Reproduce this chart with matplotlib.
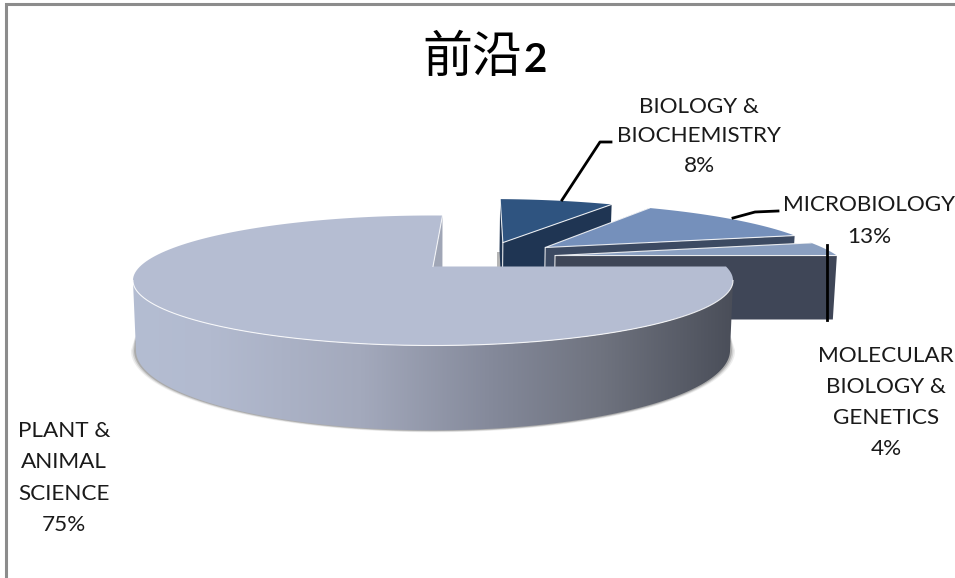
from __future__ import annotations

import matplotlib

matplotlib.use("Agg")
import matplotlib.pyplot as plt
import numpy as np
from matplotlib.colors import LinearSegmentedColormap
from matplotlib.patches import Polygon


TITLE_CJK = "前沿"
TITLE_NUM = "2"
CATEGORIES = ["BIOLOGY &\nBIOCHEMISTRY", "MICROBIOLOGY", "MOLECULAR\nBIOLOGY &\nGENETICS", "PLANT &\nANIMAL\nSCIENCE"]
VALUES = [8.0, 12.6, 3.7, 75.4]

# slices run clockwise from north, plant slice ends a little past it
FIRST_ANGLE = 2.26
TOP_COLORS = ["#2f5480", "#7590bb", "#8a9fc0", "#b5bdd2"]
SIDE_COLORS = ["#1f3553", "#3c4a62", "#3f4657", "#a0a6b6"]
OFFSETS = [(0.26, -0.42), (0.41, -0.328), (0.433, -0.184), (0.0, 0.0)]
LABEL_POS = [(699, 136.5), (869, 221), (886, 402.5), (64, 478)]
LABEL_SPACING = [1.61, 1.7, 1.68, 1.72]

CX, CY = 433.0, 266.5
RADIUS = 293.0
SQUASH = 62.0
PERSP = 0.2154
DEPTH = 66.5
WIDTH, HEIGHT = 955, 578
# angles where the rim turns, the wall is only seen between them
SIDE_A, SIDE_B = 102.4, 257.6


def project(u, v, depth=0.0):
    s = 1.0 / (1.0 - PERSP * v)
    return CX + RADIUS * u * s * (1.0 - 0.01 * depth), CY + SQUASH * v * s + DEPTH * s * depth


def arc(start, end, offset=(0.0, 0.0), depth=0.0, scale=1.0, n=160):
    t = np.radians(np.linspace(start, end, n))
    # v is positive towards the viewer, north of the pie is negative v
    x, y = project(offset[0] + scale * np.sin(t), offset[1] - scale * np.cos(t), depth)
    return np.column_stack([x, y])


def cutFace(angle, offset, color, ax):
    a = np.radians(angle)
    outer = (offset[0] + np.sin(a), offset[1] - np.cos(a))
    pts = [project(*offset), project(*outer), project(*outer, 1.0), project(*offset, 1.0)]
    ax.add_patch(Polygon(pts, closed=True, facecolor=color, edgecolor="none"))


fig = plt.figure(figsize=(WIDTH / 100, HEIGHT / 100), dpi=100)
ax = fig.add_axes([0, 0, 1, 1])
ax.set_axis_off()

sweeps = np.array(VALUES) / sum(VALUES) * 360.0
starts = FIRST_ANGLE + np.concatenate([[0.0], np.cumsum(sweeps)[:-1]])
ends = starts + sweeps

# small detached slices, back to front
for i in range(3):
    offset = OFFSETS[i]
    if i == 0:
        ax.add_patch(Polygon([(497, 252), (503, 252), (503, 267), (497, 267)], facecolor="#b5b5b5", edgecolor="none"))
    cutFace(starts[i], offset, SIDE_COLORS[i], ax)
    cutFace(ends[i], offset, SIDE_COLORS[i], ax)
    apex = np.array([project(*offset)])
    top = np.vstack([apex, arc(starts[i], ends[i], offset)])
    ax.add_patch(Polygon(top, closed=True, facecolor=TOP_COLORS[i], edgecolor="none"))
    ax.plot(*np.vstack([arc(ends[i], ends[i], offset, n=1), apex, arc(starts[i], starts[i], offset, n=1)]).T,
            color="white", lw=0.8, alpha=0.85, solid_joinstyle="miter")
    ax.plot(*np.vstack([apex, project(*offset, 1.0)]).T, color="white", lw=0.8, alpha=0.85)

# soft shadow under the big slice
for grow, alpha in [(1.016, 0.10), (1.011, 0.18), (1.006, 0.30)]:
    ring = np.vstack([arc(SIDE_B, SIDE_A, depth=0.8), arc(SIDE_A, SIDE_B, depth=1.0, scale=grow)])
    ax.add_patch(Polygon(ring, closed=True, facecolor="#555555", alpha=alpha, edgecolor="none"))

# big slice: outer wall with the left-to-right shading
wall = np.vstack([arc(SIDE_A, SIDE_B), arc(SIDE_B, SIDE_A, depth=1.0)])
wallPatch = Polygon(wall, closed=True, facecolor="none", edgecolor="none")
ax.add_patch(wallPatch)
shade = LinearSegmentedColormap.from_list(
    "wall",
    [(0.0, "#b4bdd2"), (0.13, "#b2bacf"), (0.38, "#a3a9bc"), (0.6, "#84899a"), (0.78, "#6f737f"), (1.0, "#4a4e59")],
)
image = ax.imshow(
    np.linspace(0, 1, 256).reshape(1, -1),
    extent=(132, 733, 440, 270),
    cmap=shade,
    aspect="auto",
    zorder=1.5,
)
image.set_clip_path(wallPatch)

cutFace(ends[3], OFFSETS[3], SIDE_COLORS[3], ax)
topPlant = np.vstack([[project(0.0, 0.0)], arc(starts[3], ends[3])])
ax.add_patch(Polygon(topPlant, closed=True, facecolor=TOP_COLORS[3], edgecolor="none", zorder=2))
ax.plot(*arc(SIDE_A, SIDE_B).T, color="white", lw=0.8, alpha=0.85, zorder=2.1)
ax.plot(*np.vstack([[project(0.0, 0.0)], arc(ends[3], ends[3], n=1)]).T, color="white", lw=0.8, alpha=0.8, zorder=2.1)

# leader lines
ax.plot([611, 600, 562], [142, 142, 200], color="black", lw=2.0, zorder=3)
ax.plot([778, 755, 733], [211, 212, 218], color="black", lw=2.0, zorder=3)
ax.plot([827, 827], [245, 320], color="black", lw=2.0, zorder=3)

labelFont = ["Lato", "DejaVu Sans"]
for name, value, pos, spacing in zip(CATEGORIES, VALUES, LABEL_POS, LABEL_SPACING):
    ax.text(
        pos[0], pos[1], f"{name}\n{round(value):d}%", ha="center", va="center", fontsize=16.2,
        family=labelFont, color="#1a1a1a", linespacing=spacing, zorder=4,
    )

ax.text(472, 58, TITLE_CJK, ha="center", va="center", fontsize=36, family=["Noto Sans CJK SC", "DejaVu Sans"], color="black")
ax.text(535, 60, TITLE_NUM, ha="center", va="center", fontsize=29, family=labelFont, weight="bold", color="black")

# frame of the pasted chart, only top and left show
ax.plot([6, 6, WIDTH], [HEIGHT, 4, 4], color="#8c8c8c", lw=2.2, solid_joinstyle="miter", zorder=5)

ax.set_xlim(0, WIDTH)
ax.set_ylim(HEIGHT, 0)
fig.savefig("out.png", dpi=100, facecolor="white")
